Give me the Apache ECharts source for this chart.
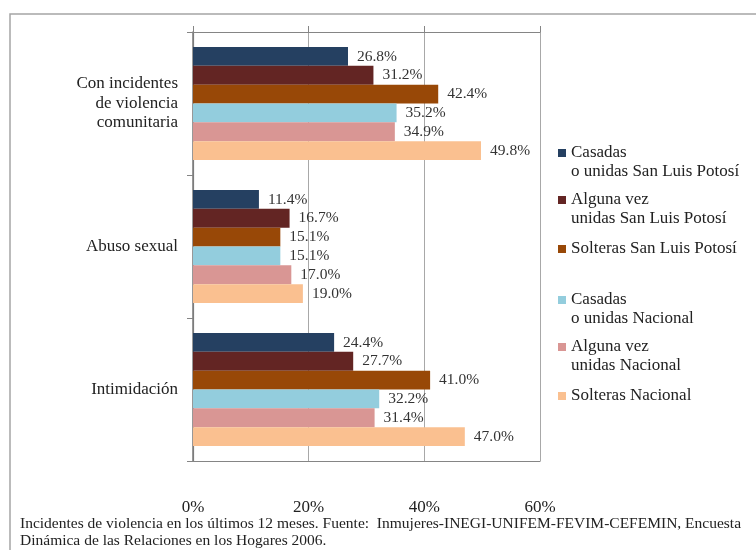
<!DOCTYPE html>
<html>
<head>
<meta charset="utf-8">
<script src="https://cdn.jsdelivr.net/npm/echarts@6/dist/echarts.min.js"></script>
<style>
  html, body { margin: 0; padding: 0; background: #fff; }
  #chart { width: 756px; height: 550px; }
</style>
</head>
<body>
<div id="chart"></div>
<script>
// Incident categories, top to bottom
const categories = ['Con incidentes\nde violencia\ncomunitaria', 'Abuso sexual', 'Intimidación'];

// Series names (as they appear in the legend)
const seriesNames = [
  'Casadas o unidas San Luis Potosí',
  'Alguna vez unidas San Luis Potosí',
  'Solteras San Luis Potosí',
  'Casadas o unidas Nacional',
  'Alguna vez unidas Nacional',
  'Solteras Nacional'
];
const legendText = [
  'Casadas\no unidas San Luis Potosí',
  'Alguna vez\nunidas San Luis Potosí',
  'Solteras San Luis Potosí',
  'Casadas\no unidas Nacional',
  'Alguna vez\nunidas Nacional',
  'Solteras Nacional'
];

// Percent values per series, in category order
const casadasSLP   = [26.8, 11.4, 24.4];
const algunaVezSLP = [31.2, 16.7, 27.7];
const solterasSLP  = [42.4, 15.1, 41.0];
const casadasNac   = [35.2, 15.1, 32.2];
const algunaVezNac = [34.9, 17.0, 31.4];
const solterasNac  = [49.8, 19.0, 47.0];

const valueTicks = [0, 20, 40, 60];

const colors = ['#254061', '#632523', '#984807', '#93CDDD', '#D99694', '#FAC090'];
const seriesData = [casadasSLP, algunaVezSLP, solterasSLP, casadasNac, algunaVezNac, solterasNac];

const FONT = '"Liberation Serif", "DejaVu Serif", serif';
const TEXT = '#222';

const chart = echarts.init(document.getElementById('chart'));

// Legend entries: one small legend per series so the spacing can be set freely
const legendIconCenters = [153, 200, 249, 300, 347, 396];
const LINE_H = 19;
const legends = seriesNames.map((name, i) => {
  const twoLines = legendText[i].indexOf('\n') >= 0;
  // a leading empty line keeps the marker beside the first text line
  const half = twoLines ? LINE_H * 1.5 : LINE_H / 2;
  return {
    data: [name],
    left: 558,
    top: legendIconCenters[i] - half,
    padding: 0,
    itemWidth: 8,
    itemHeight: 8,
    selectedMode: false,
    icon: 'rect',
    formatter: () => (twoLines ? '\n' : '') + legendText[i],
    textStyle: { fontFamily: FONT, fontSize: 17, color: TEXT, lineHeight: LINE_H }
  };
});

const option = {
  animation: false,
  color: colors,
  title: {
    text: 'Incidentes de violencia en los últimos 12 meses. Fuente:  Inmujeres-INEGI-UNIFEM-FEVIM-CEFEMIN, Encuesta\nDinámica de las Relaciones en los Hogares 2006.',
    left: 20,
    top: 516,
    padding: 0,
    textStyle: { fontFamily: FONT, fontSize: 15.5, fontWeight: 'normal', color: TEXT, lineHeight: 16.5 }
  },
  legend: legends,
  graphic: [{
    type: 'rect',
    silent: true,
    z: -1,
    shape: { x: 10, y: 14, width: 800, height: 600 },
    style: { fill: 'none', stroke: '#a5a5a5', lineWidth: 1.5 }
  }],
  grid: { left: 193, right: 216, top: 32, bottom: 89 },
  xAxis: [{
    type: 'value',
    position: 'top',
    min: valueTicks[0],
    max: valueTicks[valueTicks.length - 1],
    interval: 20,
    axisLine: { show: true, lineStyle: { color: '#858585', width: 1.2 } },
    axisTick: { show: true, length: 6, lineStyle: { color: '#858585' } },
    axisLabel: { show: false },
    splitLine: { show: true, lineStyle: { color: '#a8a8a8', width: 1 } }
  }, {
    type: 'value',
    position: 'bottom',
    min: valueTicks[0],
    max: valueTicks[valueTicks.length - 1],
    interval: 20,
    axisLine: { show: true, onZero: false, lineStyle: { color: '#858585', width: 1.2 } },
    axisTick: { show: false },
    axisLabel: { margin: 38, fontFamily: FONT, fontSize: 17, color: TEXT, formatter: '{value}%' },
    splitLine: { show: false }
  }],
  yAxis: [{
    type: 'category',
    inverse: true,
    data: categories,
    axisLine: { show: true, lineStyle: { color: '#858585', width: 1.2 } },
    axisTick: { show: true, length: 6, lineStyle: { color: '#858585' } },
    axisLabel: { margin: 15, fontFamily: FONT, fontSize: 17, color: TEXT, lineHeight: 19.5, align: 'right' }
  }, {
    type: 'category',
    position: 'right',
    inverse: true,
    data: categories,
    axisLine: { show: true, lineStyle: { color: '#7a7a7a', width: 1.5 } },
    axisTick: { show: false },
    axisLabel: { show: false }
  }],
  series: seriesNames.map((name, i) => ({
    name: name,
    type: 'bar',
    xAxisIndex: 0,
    yAxisIndex: 0,
    data: seriesData[i],
    barGap: '0%',
    barCategoryGap: '21%',
    itemStyle: { color: colors[i] },
    label: {
      show: true,
      position: 'right',
      distance: 9,
      fontFamily: FONT,
      fontSize: 15.5,
      color: '#333',
      formatter: (p) => p.value.toFixed(1) + '%'
    }
  }))
};

chart.setOption(option);
</script>
</body>
</html>
